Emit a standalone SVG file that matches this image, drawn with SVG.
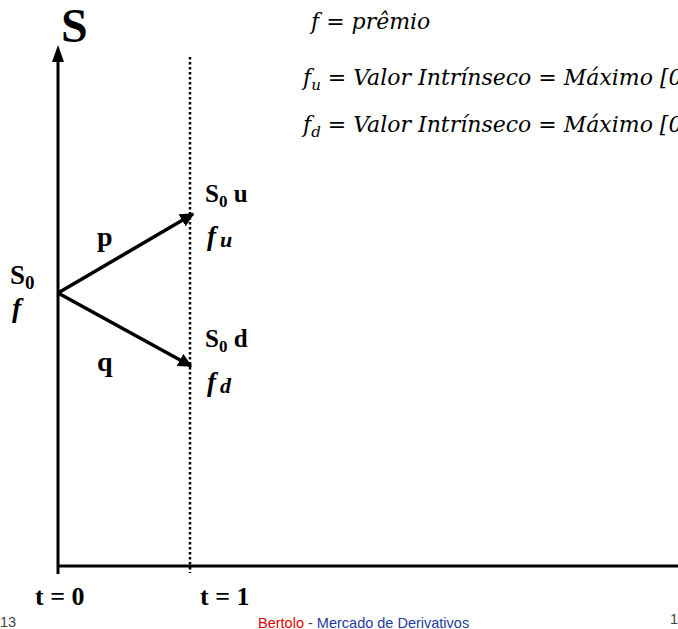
<svg xmlns="http://www.w3.org/2000/svg" width="678" height="629" viewBox="0 0 678 629">
<defs>
<style>
.b{font-family:"Liberation Serif","Times New Roman",serif;font-weight:bold;fill:#000}
.bi{font-family:"Liberation Serif","Times New Roman",serif;font-weight:bold;font-style:italic;fill:#000}
.m{font-family:"DejaVu Serif","Liberation Serif",serif;font-style:italic;font-size:22px;fill:#000}
.ax{stroke:#000;stroke-width:3;fill:none}
.ft{font-family:"Liberation Sans",Arial,sans-serif;font-size:14.5px}
</style>
<marker id="ah" viewBox="0 0 10 10" refX="9" refY="5" markerWidth="4" markerHeight="4" orient="auto" markerUnits="strokeWidth">
<path d="M0,0 L10,5 L0,10 z" fill="#000"/>
</marker>
</defs>
<rect width="678" height="629" fill="#fff"/>
<g id="axes">
<line class="ax" x1="58" y1="574" x2="58" y2="60"/>
<path d="M52,62 L58,45 L64,62 z" fill="#000"/>
<line class="ax" x1="58" y1="566" x2="678" y2="566"/>
<line x1="190" y1="57" x2="190" y2="573" stroke="#000" stroke-width="2.5" stroke-dasharray="2.5,2.5"/>
</g>
<g id="connectors">
<line x1="58" y1="293" x2="193" y2="214" stroke="#000" stroke-width="3.5" marker-end="url(#ah)"/>
<line x1="58" y1="293" x2="191" y2="366" stroke="#000" stroke-width="3.5" marker-end="url(#ah)"/>
</g>
<g id="axis-label-S"><text class="b" x="61" y="42" font-size="48">S</text></g>
<g id="node-root">
<text class="b" x="10" y="284" font-size="27">S<tspan font-size="19" dy="5">0</tspan></text>
<text class="bi" x="12" y="317" font-size="28">f</text>
</g>
<g id="label-p"><text class="b" x="97" y="246" font-size="28">p</text></g>
<g id="label-q"><text class="b" x="97" y="371" font-size="28">q</text></g>
<g id="node-up">
<text class="b" x="205" y="202" font-size="25">S<tspan font-size="17" dy="5">0</tspan><tspan dy="-5"> u</tspan></text>
<text class="bi" x="207" y="245" font-size="27">f<tspan font-size="22" dx="4" dy="2">u</tspan></text>
</g>
<g id="node-down">
<text class="b" x="205" y="347" font-size="25">S<tspan font-size="17" dy="5">0</tspan><tspan dy="-5"> d</tspan></text>
<text class="bi" x="207" y="391" font-size="27">f<tspan font-size="22" dx="4" dy="2">d</tspan></text>
</g>
<g id="time-labels">
<text class="b" x="35" y="605" font-size="26">t = 0</text>
<text class="b" x="200" y="605" font-size="26">t = 1</text>
</g>
<g id="formulas">
<text class="m" x="311" y="29">f = prêmio</text>
<text class="m" x="303" y="85">f<tspan font-size="15" dy="5">u</tspan><tspan dy="-5"> = Valor Intrínseco = Máximo [0</tspan></text>
<text class="m" x="303" y="132">f<tspan font-size="15" dy="5">d</tspan><tspan dy="-5"> = Valor Intrínseco = Máximo [0</tspan></text>
</g>
<g id="footer">
<text class="ft" x="0" y="627" fill="#444">13</text>
<text class="ft" x="258" y="628"><tspan fill="#e00000">Bertolo</tspan><tspan fill="#444"> - </tspan><tspan fill="#1f3c99">Mercado de Derivativos</tspan></text>
<text class="ft" x="670" y="624" fill="#444">1</text>
</g>
</svg>
